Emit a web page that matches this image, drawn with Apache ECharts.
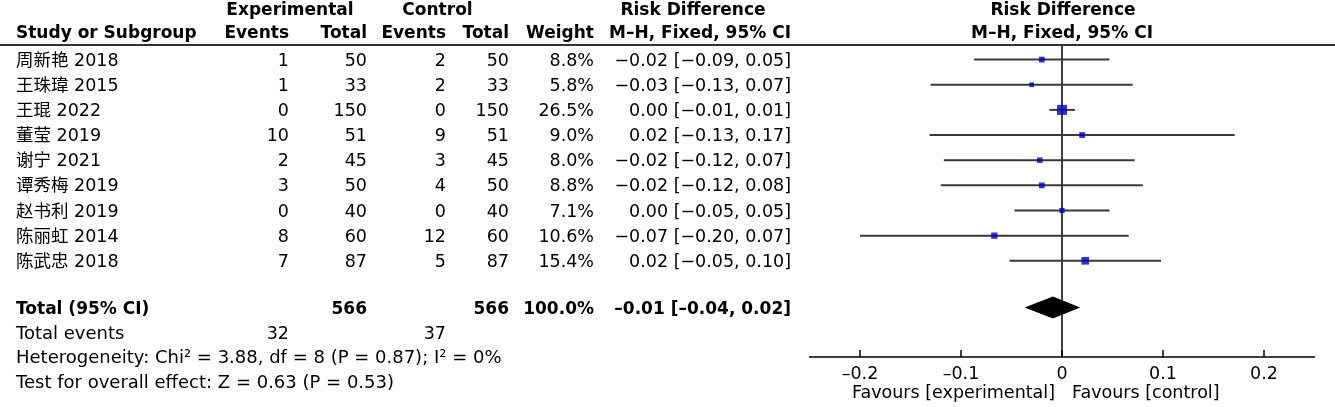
<!DOCTYPE html>
<html><head><meta charset="utf-8">
<script src="https://cdn.jsdelivr.net/npm/echarts@6/dist/echarts.min.js"></script>
<style>html,body{margin:0;padding:0;background:#fff;}#c{width:1335px;height:407px;}</style>
</head><body><div id="c"></div>
<script>
// ---- data ----
const studies = ['周新艳 2018','王珠瑋 2015','王琨 2022','董莹 2019','谢宁 2021','谭秀梅 2019','赵书利 2019','陈丽虹 2014','陈武忠 2018'];
const expEvents = [1,1,0,10,2,3,0,8,7];
const expTotal = [50,33,150,51,45,50,40,60,87];
const ctrlEvents = [2,2,0,9,3,4,0,12,5];
const ctrlTotal = [50,33,150,51,45,50,40,60,87];
const weights = [8.8,5.8,26.5,9.0,8.0,8.8,7.1,10.6,15.4];
const ciText = ['-0.02 [-0.09, 0.05]','-0.03 [-0.13, 0.07]','0.00 [-0.01, 0.01]','0.02 [-0.13, 0.17]','-0.02 [-0.12, 0.07]','-0.02 [-0.12, 0.08]','0.00 [-0.05, 0.05]','-0.07 [-0.20, 0.07]','0.02 [-0.05, 0.10]'];
const rd = [-0.020,-0.030,0.000,0.020,-0.022,-0.020,0.000,-0.067,0.023];
const ciLow = [-0.087,-0.130,-0.0125,-0.131,-0.117,-0.120,-0.047,-0.200,-0.052];
const ciHigh = [0.047,0.070,0.0128,0.171,0.072,0.080,0.047,0.066,0.098];
const totalExp = 566, totalCtrl = 566, totalWeight = '100.0%', totalCI = '-0.01 [-0.04, 0.02]';
const totalRD = -0.009, totalLow = -0.037, totalHigh = 0.018;
const eventsExp = 32, eventsCtrl = 37;
const heterogeneity = 'Heterogeneity: Chi² = 3.88, df = 8 (P = 0.87); I² = 0%';
const overallTest = 'Test for overall effect: Z = 0.63 (P = 0.53)';
const xTicks = [-0.2,-0.1,0,0.1,0.2];
const favourLeft = 'Favours [experimental]', favourRight = 'Favours [control]';

// ---- layout ----
const FAM = '"DejaVu Sans", "Noto Sans CJK SC", sans-serif';
const F = '17.5px ' + FAM, FB = 'bold 17px ' + FAM, FL = '18px ' + FAM;
const minus = s => String(s).replace(/-/g, '−');
const endash = s => String(s).replace(/-/g, '–');
const rowIdx = studies.map((s, i) => i + 1);
const totalRow = 10.86;
const Y0 = 0.42, Y1 = 12.825;
const DY = 1.5;
const COL = {study: 16, expEv: 289, expTot: 367, ctlEv: 446, ctlTot: 509, weight: 594, ci: 791};

const chart = echarts.init(document.getElementById('c'), null, {renderer: 'canvas'});

function txt(x, y, s, align, font) {
  return {type: 'text', x: x, y: y + DY, z: 10, style: {text: s, align: align || 'left', verticalAlign: 'middle', font: font || F, fill: '#000'}};
}

const option = {
  animation: false,
  backgroundColor: '#fff',
  grid: {left: 809.5, width: 505, top: 45, height: 312, containLabel: false},
  xAxis: {
    type: 'value', min: -0.25, max: 0.25,
    axisLine: {show: true, onZero: false, lineStyle: {color: '#000', width: 1.5}},
    axisTick: {show: true, inside: true, length: 7, customValues: xTicks, lineStyle: {color: '#000', width: 1.5}},
    axisLabel: {show: true, customValues: xTicks, margin: 9, color: '#000', fontSize: 17.5, fontFamily: FAM,
      formatter: v => (Math.abs(v) < 1e-9 ? '0' : endash(+v.toFixed(1)))},
    splitLine: {show: false}
  },
  yAxis: {type: 'value', inverse: true, min: Y0, max: Y1, show: false, splitLine: {show: false}},
  series: [
    { // zero line
      type: 'line', data: [[0, Y0], [0, Y1]], symbol: 'none', silent: true, z: 1,
      lineStyle: {color: '#000', width: 1.5}
    },
    { // CI whiskers
      type: 'custom', z: 2, silent: true,
      data: rowIdx.map((r, i) => [ciLow[i], ciHigh[i], r]),
      renderItem: (params, api) => {
        const p1 = api.coord([api.value(0), api.value(2)]);
        const p2 = api.coord([api.value(1), api.value(2)]);
        return {type: 'line', shape: {x1: p1[0], y1: p1[1], x2: p2[0], y2: p2[1]}, style: {stroke: '#3a3a3a', lineWidth: 2}};
      }
    },
    { // point estimates
      type: 'scatter', z: 3, symbol: 'rect', silent: true,
      data: rowIdx.map((r, i) => [rd[i], r]),
      symbolSize: (v, p) => 1.95 * Math.sqrt(weights[p.dataIndex]),
      itemStyle: {color: '#0000c4'}
    },
    { // diamond
      type: 'custom', z: 3, silent: true,
      data: [[totalLow, totalRD, totalHigh, totalRow]],
      renderItem: (params, api) => {
        const a = api.coord([api.value(0), api.value(3)]);
        const c = api.coord([api.value(1), api.value(3)]);
        const b = api.coord([api.value(2), api.value(3)]);
        const h = 11;
        return {type: 'polygon', shape: {points: [[a[0], a[1]], [c[0], c[1] - h], [b[0], b[1]], [c[0], c[1] + h]]}, style: {fill: '#000'}};
      }
    },
    { // table rows
      type: 'custom', z: 4, silent: true, clip: false,
      data: rowIdx.map(r => [0, r]),
      renderItem: (params, api) => {
        const i = params.dataIndex;
        const y = api.coord([0, api.value(1)])[1];
        return {type: 'group', children: [
          txt(COL.study, y, studies[i], 'left'),
          txt(COL.expEv, y, String(expEvents[i]), 'right'),
          txt(COL.expTot, y, String(expTotal[i]), 'right'),
          txt(COL.ctlEv, y, String(ctrlEvents[i]), 'right'),
          txt(COL.ctlTot, y, String(ctrlTotal[i]), 'right'),
          txt(COL.weight, y, weights[i].toFixed(1) + '%', 'right'),
          txt(COL.ci, y, minus(ciText[i]), 'right')
        ]};
      }
    },
    { // total row
      type: 'custom', z: 4, silent: true, clip: false,
      data: [[0, totalRow]],
      renderItem: (params, api) => {
        const y = api.coord([0, api.value(1)])[1] + 1;
        return {type: 'group', children: [
          txt(COL.study, y, 'Total (95% CI)', 'left', FB),
          txt(COL.expTot, y, String(totalExp), 'right', FB),
          txt(COL.ctlTot, y, String(totalCtrl), 'right', FB),
          txt(COL.weight, y, totalWeight, 'right', FB),
          txt(COL.ci, y, endash(totalCI), 'right', FB)
        ]};
      }
    }
  ],
  graphic: [
    {type: 'line', shape: {x1: 0, y1: 45, x2: 1335, y2: 45}, style: {stroke: '#333', lineWidth: 2}, z: 5},
    txt(290, 9.5, 'Experimental', 'center', FB),
    txt(437.5, 9.5, 'Control', 'center', FB),
    txt(693, 9.5, 'Risk Difference', 'center', FB),
    txt(1063, 9.5, 'Risk Difference', 'center', FB),
    txt(COL.study, 32, 'Study or Subgroup', 'left', FB),
    txt(COL.expEv, 32, 'Events', 'right', FB),
    txt(COL.expTot, 32, 'Total', 'right', FB),
    txt(COL.ctlEv, 32, 'Events', 'right', FB),
    txt(COL.ctlTot, 32, 'Total', 'right', FB),
    txt(COL.weight, 32, 'Weight', 'right', FB),
    txt(COL.ci, 32, 'M–H, Fixed, 95% CI', 'right', FB),
    txt(1062, 32, 'M–H, Fixed, 95% CI', 'center', FB),
    txt(COL.study, 333, 'Total events', 'left', FL),
    txt(COL.expEv, 333, String(eventsExp), 'right'),
    txt(COL.ctlEv, 333, String(eventsCtrl), 'right'),
    txt(COL.study, 357, heterogeneity, 'left', FL),
    txt(COL.study, 382, overallTest, 'left', FL),
    txt(1055, 392, favourLeft, 'right'),
    txt(1072, 392, favourRight, 'left')
  ]
};
chart.setOption(option);
</script>
</body></html>
